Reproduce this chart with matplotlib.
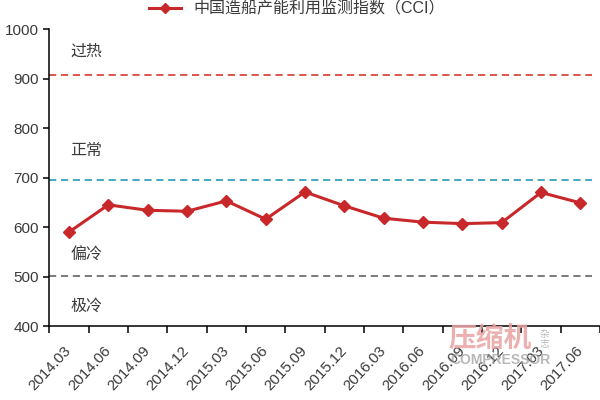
#!/usr/bin/env python3
# -*- coding: utf-8 -*-
"""CCI chart: China shipbuilding capacity utilisation index, 2014.03-2017.06."""

import matplotlib
matplotlib.use('Agg')
import matplotlib.pyplot as plt
from matplotlib.lines import Line2D

plt.rcParams['font.family'] = ['Liberation Sans', 'Noto Sans CJK SC', 'DejaVu Sans']
plt.rcParams['axes.linewidth'] = 1.1

# data
periods = ['2014.03', '2014.06', '2014.09', '2014.12', '2015.03', '2015.06', '2015.09',
           '2015.12', '2016.03', '2016.06', '2016.09', '2016.12', '2017.03', '2017.06']
cci = [590, 645, 634, 632, 653, 616, 671, 643, 618, 610, 607, 609, 670, 649]

# threshold lines and zone names
levels = [907, 695, 502]
level_colors = ['#d94a3f', '#35a3bd', '#707070']
zone_names = ['过热', '正常', '偏冷', '极冷']
zone_y = [956, 756, 543, 439]

yticks = [400, 500, 600, 700, 800, 900, 1000]

RED = '#c9282a'
TXT = '#3a3a3a'

fig = plt.figure(figsize=(6, 4), dpi=100)
ax = fig.add_axes([0.0822, 0.185, 0.9178, 0.7418])

x = list(range(len(periods)))
ax.plot(x, cci, color=RED, lw=2.2, marker='D', ms=6, mec=RED, mfc=RED, zorder=3)

for lv, c in zip(levels, level_colors):
    ax.plot([-0.5, len(periods) - 1 + 0.3], [lv, lv], color=c, lw=1.3,
            linestyle=(0, (4, 2.6)), zorder=2)

for name, yy in zip(zone_names, zone_y):
    ax.text(0.03, yy, name, fontsize=11.5, color=TXT, va='center', ha='left')

ax.set_xlim(-0.5, len(periods) - 0.5)
ax.set_ylim(400, 1000)
ax.set_yticks(yticks)
ax.tick_params(axis='y', direction='out', length=4.5, width=1.1,
               labelsize=11, labelcolor=TXT, pad=3)

# labels at category centres, tick marks at the boundaries
ax.set_xticks(x)
ax.set_xticklabels(periods, rotation=47, ha='right', va='center',
                   rotation_mode='anchor', fontsize=10.8, color=TXT)
ax.tick_params(axis='x', which='major', length=0, pad=16)
ax.set_xticks([i - 0.5 for i in range(len(periods) + 1)], minor=True)
ax.tick_params(axis='x', which='minor', direction='out', length=5, width=1.1)

for s in ['top', 'right']:
    ax.spines[s].set_visible(False)

handle = Line2D([], [], color=RED, lw=2.2, marker='D', ms=5, mfc=RED, mec=RED)
fig.legend([handle], ['中国造船产能利用监测指数（CCI）'], loc='center',
           bbox_to_anchor=(0.495, 0.978), frameon=False, fontsize=11.5,
           handlelength=2.0, handletextpad=0.8, labelcolor=TXT)

# magazine watermark
fig.text(0.748, 0.152, '压缩机', fontsize=20, fontweight='bold', color='#e9a3a3',
         alpha=0.85, ha='left', va='center')
fig.text(0.75, 0.1, 'COMPRESSOR', fontsize=10, fontweight='bold', color='#9a9a9a',
         alpha=0.7, ha='left', va='center')
fig.text(0.908, 0.152, '杂\n志', fontsize=7, color='#aaaaaa', alpha=0.8,
         ha='center', va='center', linespacing=1.0)

fig.savefig('out.png', dpi=100)
